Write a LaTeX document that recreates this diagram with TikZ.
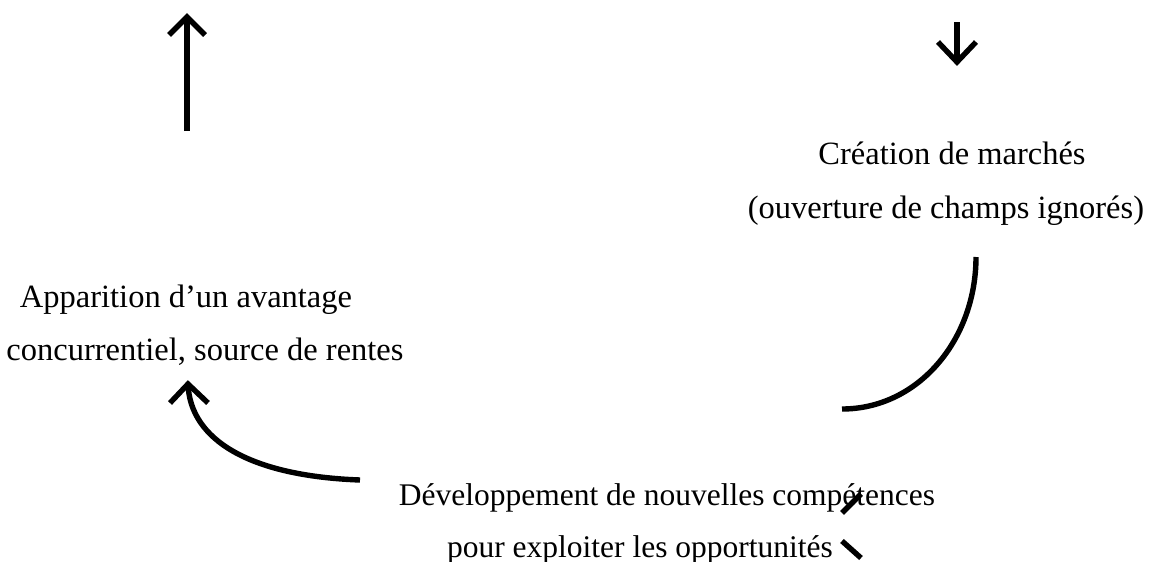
\documentclass[tikz,border=0pt]{standalone}
\usepackage{fontspec}
\setmainfont{Liberation Serif}
\begin{document}
\begin{tikzpicture}[x=1pt,y=-1pt,
  lbl/.style={anchor=base,inner sep=0pt,font=\fontsize{32.5}{39}\selectfont},
  lblb/.style={anchor=base,inner sep=0pt,font=\fontsize{31.5}{38}\selectfont},
  stroke/.style={line width=5.4pt,line cap=butt,line join=miter}]
\useasboundingbox[fill=white] (0,0) rectangle (1162,562);
% texts
\node[lbl] (c1) at (952,164) {Création de marchés};
\node[lbl] (c2) at (946,218) {(ouverture de champs ignorés)};
\node[lbl] (a1) at (186,307) {Apparition d’un avantage};
\node[lbl] (a2) at (205,360) {concurrentiel, source de rentes};
\node[lblb] (d1) at (667,505) {Développement de nouvelles compétences};
\node[lblb] (d2) at (640,557) {pour exploiter les opportunités};
% up arrow
\coordinate (ub) at (187,131);
\coordinate (ut) at (187,17);
\coordinate (uw1) at (169,35);
\coordinate (uw2) at (205,35);
\draw[stroke] (ub) -- (ut);
\draw[stroke] (uw1) -- (ut) -- (uw2);
% down arrow
\coordinate (dtop) at (957,22);
\coordinate (dtip) at (957,62);
\coordinate (dw1) at (938,42);
\coordinate (dw2) at (976,42);
\draw[stroke] (dtop) -- (dtip);
\draw[stroke] (dw1) -- (dtip) -- (dw2);
% right curve
\coordinate (rs) at (976,257);
\coordinate (re) at (842,409);
\draw[stroke] (rs) .. controls (976,340) and (918,409) .. (re);
% left curve with head
\coordinate (ls) at (360,480);
\coordinate (lt) at (188,384);
\coordinate (lw1) at (170,403);
\coordinate (lw2) at (208,403);
\draw[stroke] (ls) .. controls (250,476) and (190,440) .. (lt);
\draw[stroke] (lw1) -- (lt) -- (lw2);
% stray strokes bottom right
\coordinate (s1a) at (842,513);
\coordinate (s1b) at (861,494);
\coordinate (s2a) at (842,541);
\coordinate (s2b) at (861,558);
\draw[stroke] (s1a) -- (s1b);
\draw[stroke] (s2a) -- (s2b);
\end{tikzpicture}
\end{document}
